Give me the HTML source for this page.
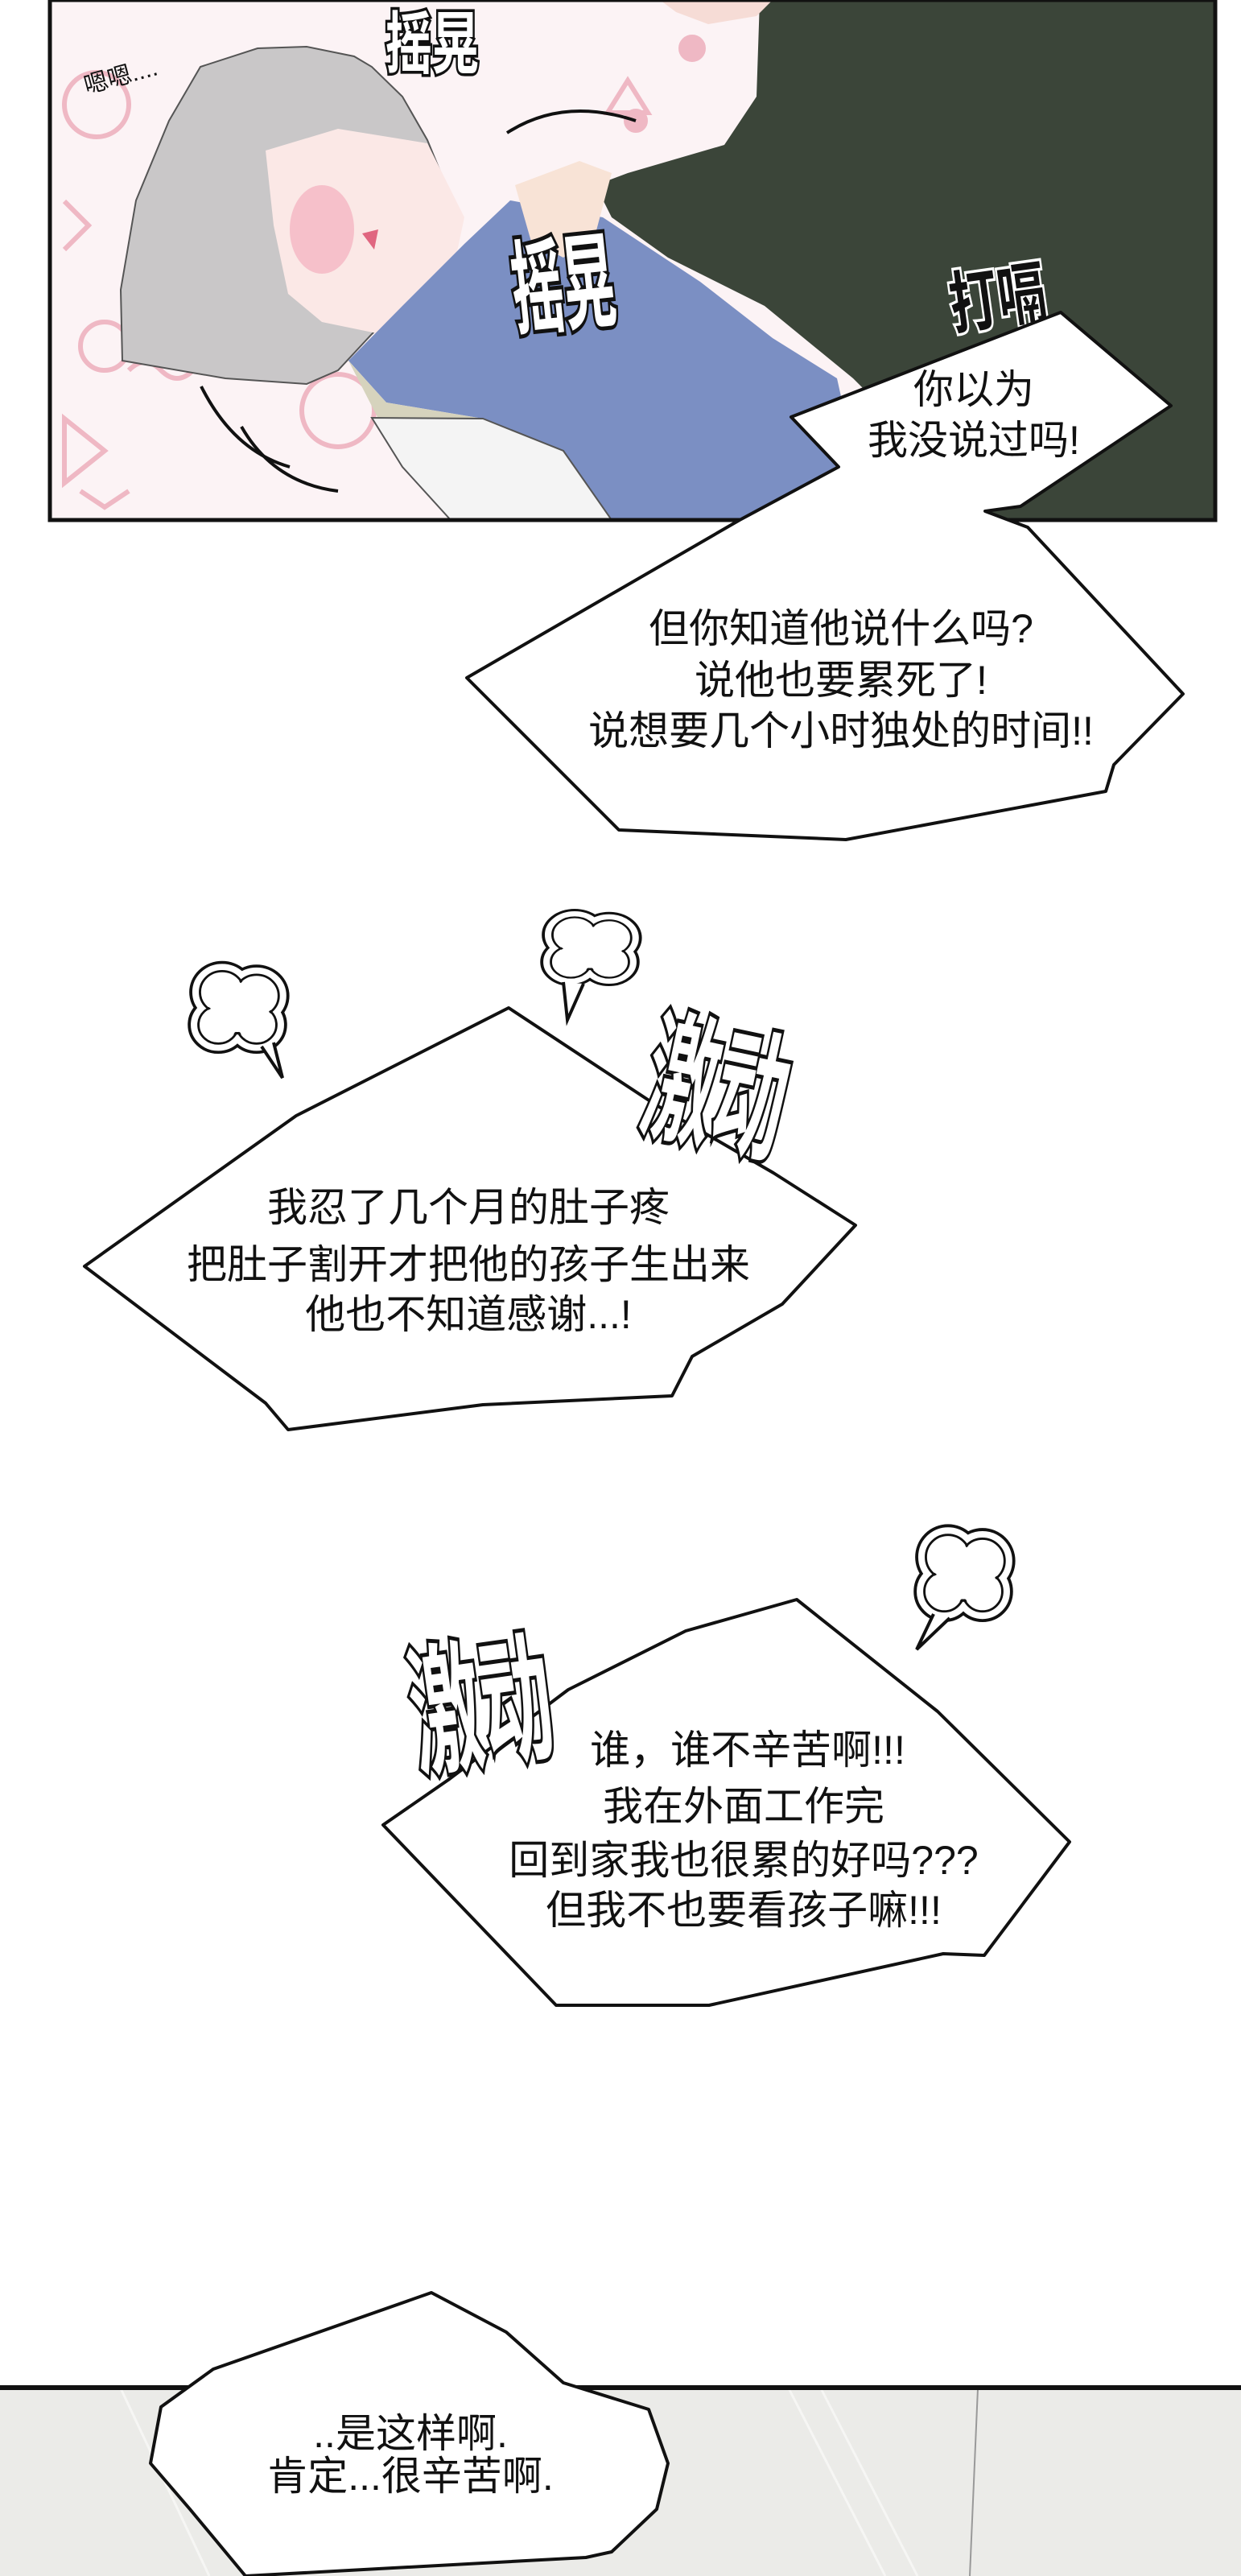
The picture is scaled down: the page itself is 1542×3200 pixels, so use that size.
<!DOCTYPE html>
<html><head><meta charset="utf-8">
<style>
html,body{margin:0;padding:0;background:#fff;}
svg{display:block;}
.t{font-family:"Liberation Sans","Noto Sans CJK SC",sans-serif;font-size:50px;fill:#111;text-anchor:middle;}
.sfx{font-family:"Liberation Sans","Noto Sans CJK SC",sans-serif;font-weight:bold;fill:#fff;stroke:#111;stroke-width:5;paint-order:stroke;text-anchor:middle;}
</style></head>
<body>
<svg width="1542" height="3200" viewBox="0 0 1542 3200" xmlns="http://www.w3.org/2000/svg">
<defs>
<g id="cloud">
  <g fill="none" stroke="#111" stroke-width="16">
    <circle cx="-20" cy="-25" r="35"/><circle cx="25" cy="-20" r="35"/><circle cx="-25" cy="20" r="32"/><circle cx="25" cy="20" r="32"/><circle cx="0" cy="0" r="38"/>
  </g>
  <g fill="#fff" stroke="#fff" stroke-width="8">
    <circle cx="-20" cy="-25" r="35"/><circle cx="25" cy="-20" r="35"/><circle cx="-25" cy="20" r="32"/><circle cx="25" cy="20" r="32"/><circle cx="0" cy="0" r="38"/>
  </g>
  <g fill="none" stroke="#111" stroke-width="3">
    <circle cx="-20" cy="-25" r="29"/><circle cx="25" cy="-20" r="29"/><circle cx="-25" cy="20" r="26"/><circle cx="25" cy="20" r="26"/><circle cx="0" cy="0" r="32"/>
  </g>
  <g fill="#fff">
    <circle cx="-20" cy="-25" r="27"/><circle cx="25" cy="-20" r="27"/><circle cx="-25" cy="20" r="24"/><circle cx="25" cy="20" r="24"/><circle cx="0" cy="0" r="30"/>
  </g>
</g>
</defs>

<!-- TOP PANEL -->
<rect x="62" y="0" width="1448" height="646" fill="#fcf3f5"/>
<g fill="none" stroke="#efb8c4" stroke-width="6">
  <circle cx="120" cy="130" r="40"/><circle cx="1430" cy="40" r="35"/><circle cx="420" cy="510" r="45"/><circle cx="130" cy="430" r="30"/>
  <path d="M80 520 l50 40 l-50 40z"/><path d="M100 610 l30 20 l30 -20"/><path d="M780 100 l25 40 l-50 0z"/>
  <circle cx="860" cy="60" r="14" fill="#efb8c4"/><circle cx="790" cy="150" r="12" fill="#efb8c4"/>
  <path d="M160 460 q20 -20 40 0 t40 0"/><path d="M80 250 l30 30 l-30 30"/>
</g>
<path d="M944 0 L1510 0 L1510 646 L1230 646 L1150 560 L1060 470 L950 380 L830 320 L760 270 L740 230 L780 215 L900 180 L940 120 Z" fill="#3b4539"/>
<path d="M820 0 L960 0 L940 20 L880 30 L840 15 Z" fill="#f6dcd6"/>
<path d="M152 448 L150 360 L169 249 L210 150 L249 83 L320 60 L381 58 L440 70 L462 83 L500 120 L531 174 L565 257 L520 360 L462 415 L420 460 L381 477 L280 470 Z" fill="#c9c7c8" stroke="#555" stroke-width="2"/>
<path d="M330 187 L420 160 L531 178 L577 270 L560 350 L473 415 L400 400 L358 365 L340 280 Z" fill="#fbe8e6"/>
<ellipse cx="400" cy="285" rx="40" ry="55" fill="#f5b5c3" opacity="0.8"/>
<path d="M450 290 l20 -5 l-5 25z" fill="#e06680"/>
<path d="M433 448 L500 380 L577 303 L634 249 L749 270 L870 350 L960 420 L1040 470 L1060 560 L1060 646 L760 646 L700 560 L600 520 L480 500 Z" fill="#7b8fc3"/>
<path d="M433 448 L480 500 L600 520 L640 560 L560 560 L470 520 Z" fill="#d6d3bd"/>
<path d="M462 519 L600 520 L700 560 L760 646 L560 646 L500 580 Z" fill="#f4f4f4" stroke="#555" stroke-width="2"/>
<path d="M640 230 L720 200 L760 215 L740 290 L700 320 L660 300 Z" fill="#f8e3d6"/>
<g fill="none" stroke="#111" stroke-width="4">
  <path d="M630 165 Q700 120 790 150"/><path d="M250 480 Q290 560 360 580"/><path d="M300 530 Q340 600 420 610"/>
</g>
<g transform="translate(537,52) scale(1,1.45)"><text class="sfx" y="22" font-size="58">摇晃</text></g>
<g transform="translate(700,356) rotate(-6) scale(1,2)"><text class="sfx" y="22" font-size="64" stroke-width="4">摇晃</text></g>
<g transform="translate(1240,372) rotate(-8) scale(1,1.4)"><text class="sfx" y="20" font-size="60" style="fill:#111;stroke:#fff">打嗝</text></g>
<text x="150" y="105" font-size="30" font-family="Liberation Sans,Noto Sans CJK SC,sans-serif" fill="#111" text-anchor="middle" transform="rotate(-15 150 95)">嗯嗯....</text>
<rect x="62" y="0" width="1448" height="646" fill="none" stroke="#111" stroke-width="5"/>

<!-- Bubble 1+2 combined -->
<path d="M983 518 L1318 388 L1455 504 L1268 629 L1224 635 L1277 655 L1470 862 L1384 950 L1374 983 L1051 1043 L769 1031 L580 842 L919 646 L1042 580 Z" fill="#fff" stroke="#111" stroke-width="4" stroke-linejoin="round"/>
<text class="t" x="1210" y="501">你以为</text>
<text class="t" x="1210" y="564">我没说过吗!</text>
<text class="t" x="1045" y="798">但你知道他说什么吗?</text>
<text class="t" x="1045" y="862">说他也要累死了!</text>
<text class="t" x="1045" y="925">说想要几个小时独处的时间!!</text>

<!-- clouds -->
<use href="#cloud" transform="translate(295,1255) scale(0.95,0.9)"/>
<path d="M325 1300 L351 1339 L340 1295" fill="#fff" stroke="#111" stroke-width="4"/>
<use href="#cloud" transform="translate(733,1180) scale(0.95,0.75)"/>
<path d="M700 1220 L705 1267 L725 1222" fill="#fff" stroke="#111" stroke-width="4"/>
<use href="#cloud" transform="translate(1197,1958) scale(0.95,0.95)"/>
<path d="M1160 2005 L1139 2049 L1180 2010" fill="#fff" stroke="#111" stroke-width="4"/>

<!-- Bubble 3 -->
<path d="M105 1573 L368 1386 L632 1252 L814 1372 L961 1457 L1063 1522 L972 1620 L860 1685 L835 1734 L600 1745 L358 1776 L330 1743 Z" fill="#fff" stroke="#111" stroke-width="4" stroke-linejoin="round"/>
<g transform="translate(890,1355) rotate(12) scale(1,2)"><text class="sfx" y="30" font-size="88" stroke-width="4">激动</text></g>
<text class="t" x="582" y="1517">我忍了几个月的肚子疼</text>
<text class="t" x="582" y="1588">把肚子割开才把他的孩子生出来</text>
<text class="t" x="582" y="1650">他也不知道感谢...!</text>

<!-- Bubble 4 -->
<path d="M476 2267 L557 2211 L706 2099 L852 2026 L990 1987 L1165 2126 L1329 2288 L1223 2429 L1172 2427 L881 2491 L691 2491 Z" fill="#fff" stroke="#111" stroke-width="4" stroke-linejoin="round"/>
<g transform="translate(598,2122) rotate(-8) scale(1,2)"><text class="sfx" y="30" font-size="88" stroke-width="4">激动</text></g>
<text class="t" x="929" y="2191">谁，谁不辛苦啊!!!</text>
<text class="t" x="924" y="2261">我在外面工作完</text>
<text class="t" x="924" y="2328">回到家我也很累的好吗???</text>
<text class="t" x="924" y="2390">但我不也要看孩子嘛!!!</text>

<!-- bottom panel -->
<rect x="0" y="2967" width="1542" height="233" fill="#ebebe8"/>
<g stroke="#f6f6f4" stroke-width="3" fill="none">
  <path d="M150 2967 L260 3200"/><path d="M980 2967 L1100 3200"/><path d="M1020 2967 L1140 3200"/>
</g>
<path d="M1215 2967 L1205 3200" stroke="#999" stroke-width="2"/>
<rect x="0" y="2963" width="1542" height="6" fill="#111"/>
<path d="M536 2848 L629 2897 L700 2960 L806 2993 L830 3060 L816 3117 L760 3170 L728 3177 L305 3200 L236 3117 L187 3060 L200 2990 L265 2943 Z" fill="#fff" stroke="#111" stroke-width="4" stroke-linejoin="round"/>
<text class="t" x="510" y="3040">..是这样啊.</text>
<text class="t" x="510" y="3093">肯定...很辛苦啊.</text>
</svg>
</body></html>
